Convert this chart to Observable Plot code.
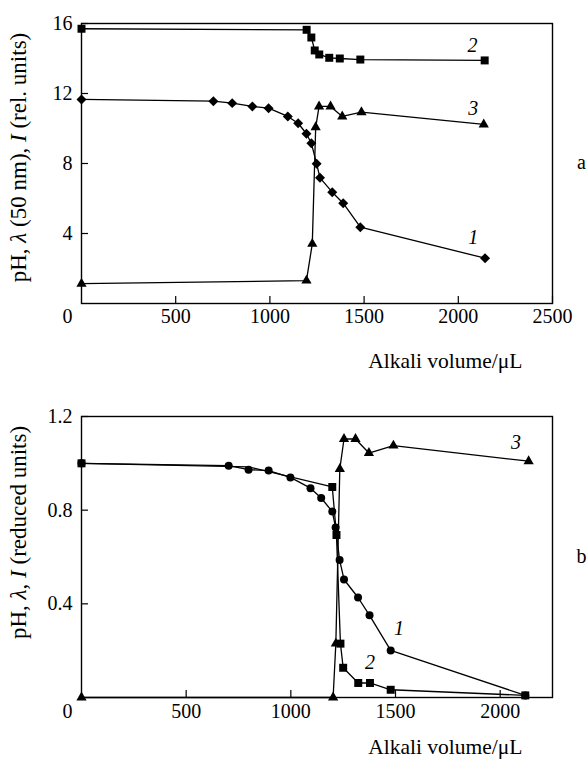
<!DOCTYPE html>
<html><head><meta charset="utf-8">
<script src="https://cdn.jsdelivr.net/npm/d3@7"></script>
<script src="https://cdn.jsdelivr.net/npm/@observablehq/plot@0.6"></script>
<style>
body{margin:0;background:#fff;}
#chart{width:587px;height:762px;position:relative;}
#chart svg{display:block;}
#chart svg text{font-family:'Liberation Serif','Times New Roman',Times,serif !important;font-variant-numeric:normal !important;}
</style></head><body><div id="chart"></div>
<script>
// ---------- Panel a data ----------
const a1X = [0,700,800,907,993,1095,1150,1194,1220,1248,1266,1331,1389,1480,2142];
const a1Y = [11.66,11.56,11.45,11.26,11.16,10.69,10.3,9.7,9.16,7.98,7.18,6.36,5.73,4.36,2.59];
const a2X = [0,1195,1220,1238,1262,1315,1371,1480,2140];
const a2Y = [15.7,15.64,15.2,14.46,14.23,14.04,14.0,13.94,13.89];
const a3X = [0,1194,1225,1243,1261,1322,1384,1486,2135];
const a3Y = [1.13,1.31,3.41,10.07,11.26,11.26,10.69,10.93,10.23];
const aLabelText = ["2","3","1"];
const aLabelX = [2075,2080,2080];
const aLabelY = [14.74,11.13,3.79];
const aXTicks = [500,1000,1500,2000,2500];
const aYTicks = [4,8,12,16];

// ---------- Panel b data ----------
const b1X = [0,703,798,894,998,1094,1145,1198,1214,1233,1254,1321,1376,1477,2120];
const b1Y = [1.0,0.99,0.973,0.969,0.94,0.894,0.852,0.794,0.726,0.587,0.504,0.427,0.351,0.201,0.009];
const b2X = [0,798,1198,1218,1237,1250,1322,1378,1477,2120];
const b2Y = [1.0,0.985,0.899,0.694,0.23,0.127,0.062,0.062,0.033,0.009];
const b2Marker = [1,0,1,1,1,1,1,1,1,1]; // the point at ~800 is hidden behind a circle
const b3X = [0,1202,1215,1234,1254,1309,1373,1490,2136];
const b3Y = [0,0,0.23,0.976,1.104,1.104,1.044,1.076,1.009];
const bLabelText = ["3","1","2"];
const bLabelX = [2076,1517,1378];
const bLabelY = [1.087,0.294,0.151];
const bXTicks = [500,1000,1500,2000];
const bYTicks = [0.4,0.8,1.2];

const FONT = "'Liberation Serif','Times New Roman',Times,serif";
const rows = (xs, ys, ms) => xs.map((x, i) => ({x, y: ys[i], m: ms ? ms[i] : 1}));

function series(data, symbol, r) {
  const out = [Plot.line(data, {x: "x", y: "y", stroke: "black", strokeWidth: 1.3})];
  if (symbol === "circle") out.push(Plot.dot(data, {x: "x", y: "y", r, fill: "black", stroke: null, filter: d => d.m}));
  else out.push(Plot.dot(data, {x: "x", y: "y", symbol, r, fill: "black", stroke: null, filter: d => d.m}));
  return out;
}

function panel(o) {
  const W = 587, H = 381, ML = 81, MR = 35;
  const plotW = W - ML - MR, plotH = H - o.mt - o.mb;
  const fmt = d => String(d);
  const tf = {fontFamily: FONT};
  const marks = [
    // inward tick marks
    Plot.tickX(o.xTicks, {x: d => d, insetTop: plotH - 7, stroke: "black", strokeWidth: 1.2}),
    Plot.tickY(o.yTicks, {y: d => d, insetRight: plotW - 7, stroke: "black", strokeWidth: 1.2}),
    Plot.frame({stroke: "black", strokeWidth: 1.4}),
    Plot.axisX({ticks: o.xTicks, tickFormat: fmt, tickSize: 0, tickPadding: o.xPad, label: null, fontSize: 20, ...tf}),
    Plot.axisY({ticks: o.yTicks, tickFormat: fmt, tickSize: 0, tickPadding: 9, label: null, fontSize: 20, ...tf}),
    Plot.text(["0"], {frameAnchor: "bottom-left", dx: -14, dy: o.xPad, textAnchor: "middle", lineAnchor: "top", fontSize: 20, ...tf}),
    Plot.text([o.xLabel], {frameAnchor: "bottom-right", dx: -30, dy: o.xLabelDy, textAnchor: "end", lineAnchor: "middle", fontSize: 21.5, ...tf}),
    Plot.text([o.yLabel], {frameAnchor: "left", dx: -62.5, dy: o.yLabelDy, rotate: -90, textAnchor: "middle", lineAnchor: "middle", fontSize: 23, ...tf}),
    Plot.text([o.letter], {frameAnchor: "right", dx: 29, dy: o.letterDy, textAnchor: "middle", lineAnchor: "middle", fontSize: 20, ...tf}),
    ...o.series.flat(),
    Plot.text(o.labels, {x: "x", y: "y", text: "t", fontStyle: "italic", fontSize: 20, ...tf})
  ];
  const svg = Plot.plot({
    width: W, height: H,
    marginLeft: ML, marginRight: MR, marginTop: o.mt, marginBottom: o.mb,
    style: {fontFamily: FONT, fontSize: "20px", color: "black", background: "white"},
    x: {domain: o.xDomain},
    y: {domain: o.yDomain},
    marks
  });
  // italic λ and I inside the y-axis title
  d3.select(svg).selectAll("text").filter(function() { return this.textContent === o.yLabel; })
    .each(function() {
      const t = d3.select(this);
      t.text(null);
      o.yParts.forEach(([s, it]) => t.append("tspan").attr("font-style", it ? "italic" : null).text(s));
    });
  return svg;
}

const chart = document.getElementById("chart");

chart.appendChild(panel({
  xDomain: [0, 2500], yDomain: [0, 16], xTicks: aXTicks, yTicks: aYTicks,
  mt: 23, mb: 78, xPad: 5, xLabelDy: 58, yLabelDy: -6, letterDy: -1,
  xLabel: "Alkali volume/μL", letter: "a",
  yLabel: "pH, λ (50 nm), I (rel. units)",
  yParts: [["pH, ", false], ["λ", true], [" (50 nm), ", false], ["I", true], [" (rel. units)", false]],
  series: [series(rows(a1X, a1Y), "diamond2", 4.5), series(rows(a2X, a2Y), "square", 4.5), series(rows(a3X, a3Y), "triangle", 3.8)],
  labels: aLabelText.map((t, i) => ({t, x: aLabelX[i], y: aLabelY[i]}))
}));

chart.appendChild(panel({
  xDomain: [0, 2250], yDomain: [0, 1.2], xTicks: bXTicks, yTicks: bYTicks,
  mt: 35, mb: 65, xPad: 6, xLabelDy: 50, yLabelDy: -24.5, letterDy: 0,
  xLabel: "Alkali volume/μL", letter: "b",
  yLabel: "pH, λ, I (reduced units)",
  yParts: [["pH, ", false], ["λ", true], [", ", false], ["I", true], [" (reduced units)", false]],
  series: [series(rows(b1X, b1Y), "circle", 4), series(rows(b2X, b2Y, b2Marker), "square", 4.5), series(rows(b3X, b3Y), "triangle", 3.8)],
  labels: bLabelText.map((t, i) => ({t, x: bLabelX[i], y: bLabelY[i]}))
}));
</script>
</body></html>
